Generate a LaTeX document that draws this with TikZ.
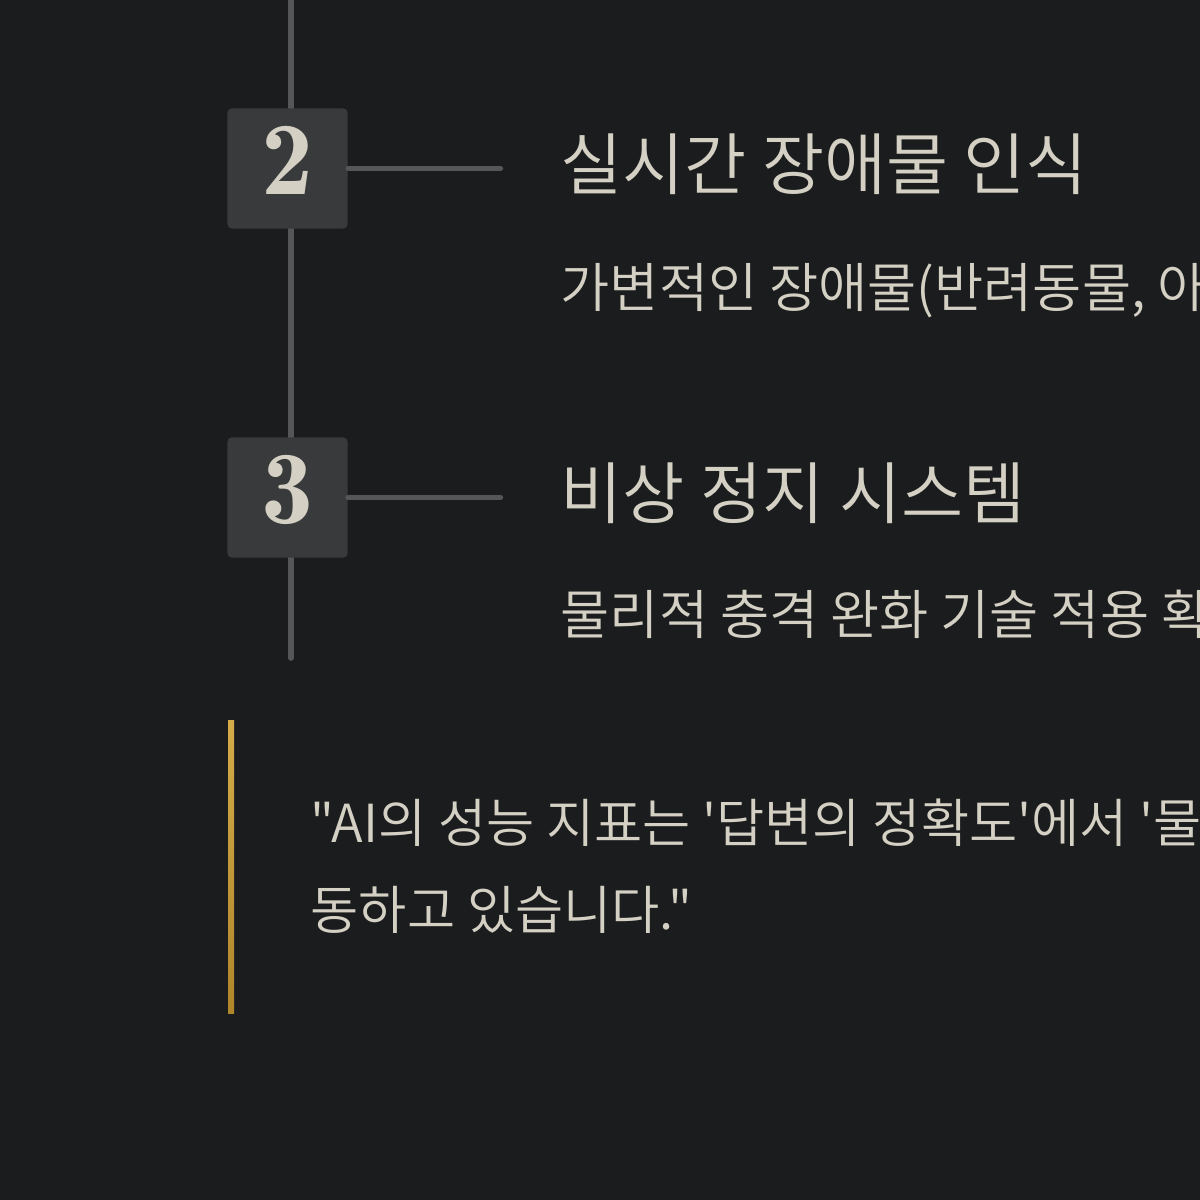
\documentclass[tikz,border=0pt]{standalone}
\usepackage{fontspec}
\usetikzlibrary{positioning}
\newfontfamily\kofont{Noto Sans CJK KR DemiLight}
\newfontfamily\numfont{lmromandemi10-regular.otf}
\definecolor{pagebg}{HTML}{1B1C1E}
\definecolor{boxbg}{HTML}{393A3C}
\definecolor{railgray}{HTML}{555658}
\definecolor{ink}{HTML}{D4D0C4}
\definecolor{goldtop}{HTML}{D4AC48}
\definecolor{goldmid}{HTML}{F6EA90}
\definecolor{goldbot}{HTML}{B0862A}

\begin{document}
\begin{tikzpicture}[x=0.01cm, y=-0.01cm, line cap=round]
    % Styles
    \tikzstyle{numbox} = [rectangle, fill=boxbg, rounded corners=1.2pt, minimum width=1.2cm, minimum height=1.2cm, text depth=0.17cm, inner sep=0pt, text=ink, font=\numfont\fontsize{29.6}{30}\selectfont]
    \tikzstyle{title} = [anchor=base west, inner sep=0pt, text=ink, font=\kofont\fontsize{19.2}{24}\selectfont]
    \tikzstyle{desc} = [anchor=base west, inner sep=0pt, text=ink, font=\kofont\fontsize{15.2}{18}\selectfont]
    \tikzstyle{rail} = [draw=railgray, line width=1.6pt]

    % Page
    \fill [pagebg] (0,0) rectangle (1200,1200);
    \clip (0,0) rectangle (1200,1200);

    % Rail
    \coordinate (railtop) at (291,0);
    \coordinate (railend) at (291,658);
    \path [rail] (railtop) -- (railend);

    % Nodes
    \node [numbox] (box2) at (287.5,168.5) {2};
    \node [numbox] (box3) at (287.5,497.5) {3};
    \coordinate [right=1.52cm of box2.east] (tick2);
    \coordinate [right=1.52cm of box3.east] (tick3);
    \node [title] (title2) at (560,189) {실시간 장애물 인식};
    \node [desc] (desc2) at (560,307) {가변적인 장애물(반려동물, 아};
    \node [title] (title3) at (560,518) {비상 정지 시스템};
    \node [desc] (desc3) at (560,634) {물리적 충격 완화 기술 적용 확};

    % Ticks
    \path [rail] (box2.east) -- (tick2);
    \path [rail] (box3.east) -- (tick3);

    % Quote
    \shade [top color=goldtop, middle color=goldmid, bottom color=goldbot] (228,720) rectangle (234,1013);
    \node [anchor=base west, inner sep=0pt, align=left, text=ink, font=\kofont\fontsize{14.9}{24.7}\selectfont] (quote) at (310,929) {"AI의 성능 지표는 '답변의 정확도'에서 '물\\동하고 있습니다."};
\end{tikzpicture}
\end{document}
